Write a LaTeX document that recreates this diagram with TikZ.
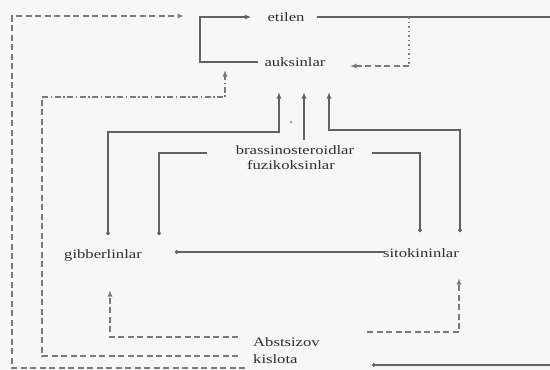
\documentclass[tikz,border=0pt]{standalone}
\usepackage{fontspec}
\setmainfont{Liberation Serif}[FakeStretch=1.3]
\usetikzlibrary{arrows.meta}
\definecolor{ln}{HTML}{626262}
\definecolor{txt}{HTML}{2e2e2e}
\begin{document}
\begin{tikzpicture}[x=1pt,y=-1pt,
  lbl/.style={font=\fontsize{12.8}{14}\selectfont, text=txt, inner sep=0pt},
  sl/.style={draw=ln, line width=1.5pt},
  dl/.style={draw=ln!85, line width=1.3pt, dash pattern=on 6pt off 3.5pt},
  ddl/.style={draw=ln!85, line width=1.3pt, dash pattern=on 6pt off 2.5pt on 1.5pt off 2.5pt},
  dotl/.style={draw=ln!80, line width=1.4pt, dash pattern=on 1.5pt off 3pt},
  tip/.style={-{Latex[length=6.5pt,width=5pt]}},
  dottip/.style={{Circle[length=3.5pt]}-{Latex[length=6.5pt,width=5pt]}},
  enddot/.style={-{Circle[length=3.5pt]}},
  startdot/.style={{Circle[length=3.5pt]}-},
]
\fill[black!3] (0,0) rectangle (550,370);
\useasboundingbox (0,0) rectangle (550,370);

% nodes
\node[lbl] (eti) at (286,17) {etilen};
\node[lbl] (auk) at (295,62) {auksinlar};
\node[lbl] (bra) at (295,150) {brassinosteroidlar};
\node[lbl] (fuz) at (291,165) {fuzikoksinlar};
\node[lbl] (gib) at (103,255) {gibberlinlar};
\node[lbl] (sit) at (421,253) {sitokininlar};
\node[lbl,anchor=west] (abs) at (253,342) {Abstsizov};
\node[lbl,anchor=west] (kis) at (253,359) {kislota};

% coordinates for free ends
\coordinate (rt) at (552,17);
\coordinate (d1) at (409,17);
\coordinate (d2) at (409,66);
\coordinate (a1) at (350,66);
\coordinate (br0) at (372,365);
\coordinate (br1) at (552,365);

% auksinlar -> etilen
\draw[sl,tip] ([xshift=-6pt]auk.west) -| (200,17) -- ([xshift=-16pt]eti.west);
% etilen -> right edge
\draw[sl] ([xshift=12pt]eti.east) -- (rt);
% dotted/dashed back to auksinlar
\draw[dotl] (d1) -- (d2);
\draw[dl,tip] (d2) -- (a1);
% bottom right solid
\draw[sl,startdot] (br0) -- (br1);

% outer left dashed loop -> etilen
\draw[dl,tip] (245,368) -| (12,16) -- (184,16);
% kislota -> auksinlar
\draw[dl] (238,356) -| (42,97);
\draw[ddl,tip] (42,97) -| (225,70);
% Abstsizov -> gibberlinlar
\draw[dl,tip] (238,337) -| (110,290);
% -> sitokininlar
\draw[dl,tip] (367,332) -| (459,278);

% gibberlinlar -> auksinlar
\draw[sl,dottip] (108,235) |- (279,132) -- (279,92);
% brassinosteroidlar -> auksinlar
\draw[sl,tip] (304,140) -- (304,92);
% sitokininlar -> auksinlar
\draw[sl,dottip] (460,232) |- (329,130) -- (329,92);
% brassinosteroidlar -> gibberlinlar
\draw[sl,enddot] (207,153) -| (159,235);
% brassinosteroidlar -> sitokininlar
\draw[sl,enddot] (372,153) -| (420,232);
% gibberlinlar -- sitokininlar
\draw[sl,startdot] (175,252) -- (385,252);

\fill[ln] (291,122) circle (1pt);
\end{tikzpicture}
\end{document}
